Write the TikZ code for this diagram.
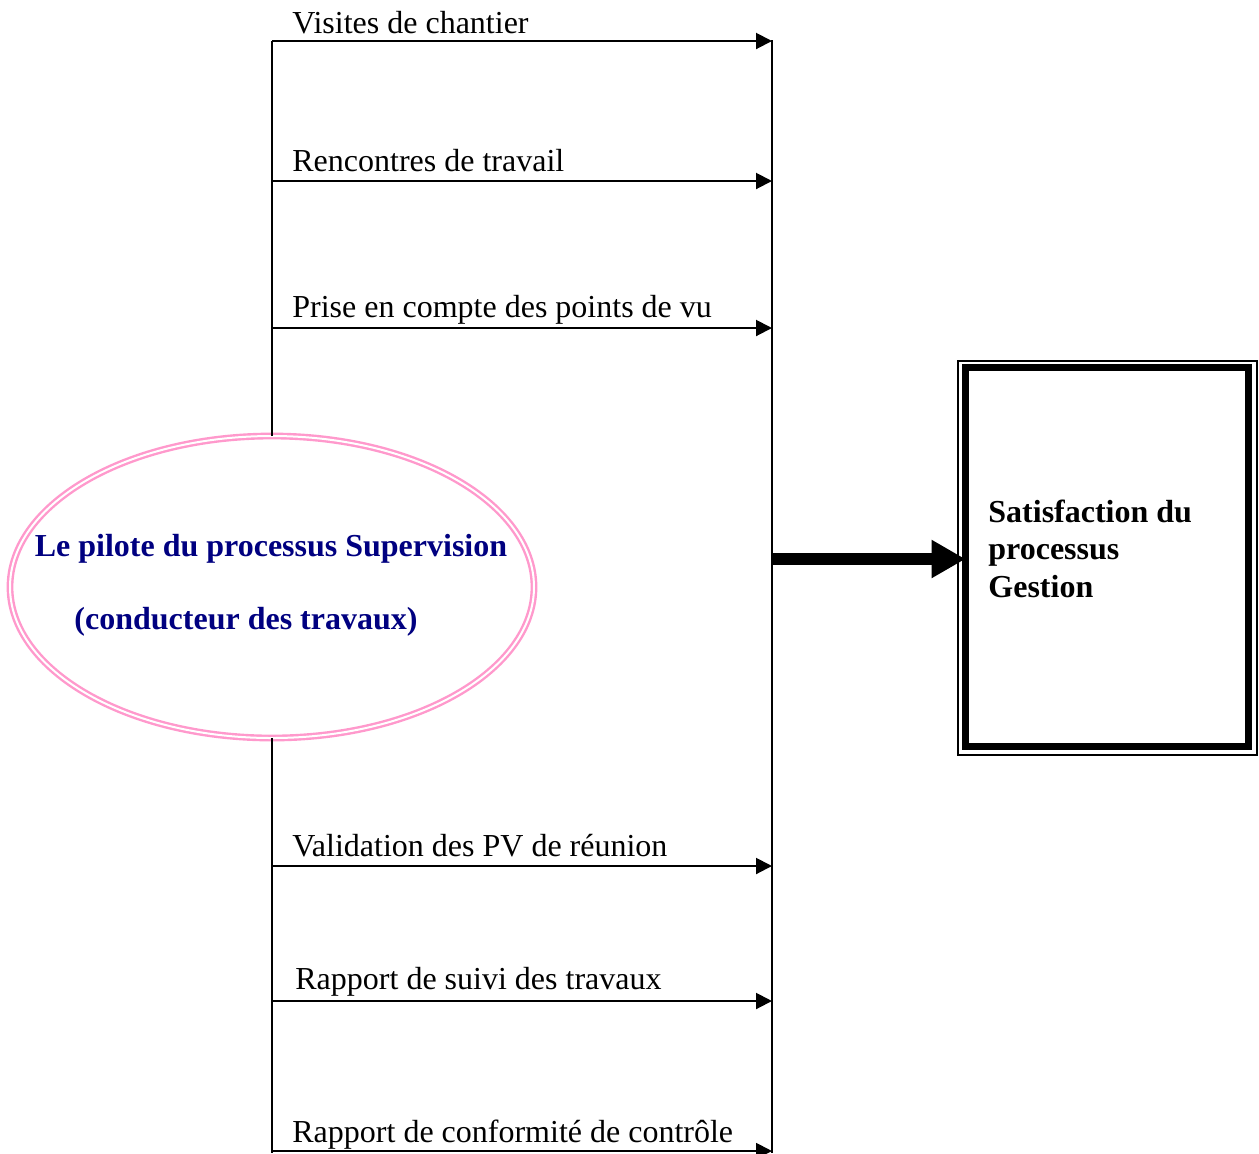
\documentclass[tikz,border=0pt]{standalone}
\usepackage{fontspec}
\setmainfont{Liberation Serif}
\usetikzlibrary{arrows.meta,shapes.geometric}
\definecolor{pilotpink}{HTML}{FF99CC}
\definecolor{pilotblue}{HTML}{000080}
\begin{document}
\begin{tikzpicture}[x=0.5pt,y=-0.5pt,
  flow/.style={line width=1pt,-{Triangle[length=8pt,width=8pt]}},
  rail/.style={line width=1pt},
  lbl/.style={anchor=base west,inner sep=0pt,font=\fontsize{16}{18.75}\selectfont},
  pilotlbl/.style={anchor=base,inner sep=0pt,text=pilotblue,font=\fontsize{16}{18.75}\selectfont\bfseries},
  pilot/.style={ellipse,draw=pilotpink,double=white,line width=1.2pt,double distance=1pt,
    minimum width=262pt,minimum height=151pt,inner sep=0pt,outer sep=0pt},
  goalbox/.style={draw,line width=3.5pt,minimum width=141.5pt,minimum height=189.5pt,outer sep=0pt},
  goalframe/.style={draw,line width=0.6pt,minimum width=149.5pt,minimum height=197pt,outer sep=0pt},
  goallbl/.style={anchor=base west,inner sep=0pt,align=left,
    font=\fontsize{16}{18.75}\selectfont\bfseries},
  bigflow/.style={line width=6pt,-{Triangle[length=17pt,width=18pt]}},
]
\useasboundingbox (0,0) rectangle (1259,1153);

% pilot of the process
\node[pilot] (pilot) at (272,587) {};
\node[pilotlbl] (pilottitle) at (271,556) {Le pilote du processus Supervision};
\node[pilotlbl] (pilotrole) at (246,629) {(conducteur des travaux)};

% left rail: start points of the flows
\coordinate (s1) at (272,41);
\coordinate (s2) at (272,181);
\coordinate (s3) at (272,328);
\coordinate (s4) at (272,866);
\coordinate (s5) at (272,1001);
\coordinate (s6) at (272,1151);
\coordinate (sbot) at (272,1153);

% right rail: end points of the flows
\coordinate (e1) at (772,41);
\coordinate (e2) at (772,181);
\coordinate (e3) at (772,328);
\coordinate (e4) at (772,866);
\coordinate (e5) at (772,1001);
\coordinate (e6) at (772,1151);
\coordinate (etop) at (772,40);
\coordinate (ebot) at (772,1153);
\coordinate (hub) at (772,559);

\draw[rail] (pilot.north) -- (s1);
\draw[rail] (pilot.south) -- (sbot);
\draw[rail] (etop) -- (ebot);

\draw[flow] (s1) -- (e1);
\draw[flow] (s2) -- (e2);
\draw[flow] (s3) -- (e3);
\draw[flow] (s4) -- (e4);
\draw[flow] (s5) -- (e5);
\draw[flow] (s6) -- (e6);

\node[lbl] (l1) at (292,33) {Visites de chantier};
\node[lbl] (l2) at (292,171) {Rencontres de travail};
\node[lbl] (l3) at (292,317) {Prise en compte des points de vu};
\node[lbl] (l4) at (292,856) {Validation des PV de réunion};
\node[lbl] (l5) at (295,989) {Rapport de suivi des travaux};
\node[lbl] (l6) at (292,1142) {Rapport de conformité de contrôle};

% outcome box
\node[goalframe] (frame) at (1107.5,558) {};
\node[goalbox] (goal) at (1107,557) {};
\node[goallbl] (goaltext) at (988,597) {Satisfaction du\\processus\\Gestion};

\draw[bigflow] (hub) -- (hub -| goal.west);
\end{tikzpicture}
\end{document}
